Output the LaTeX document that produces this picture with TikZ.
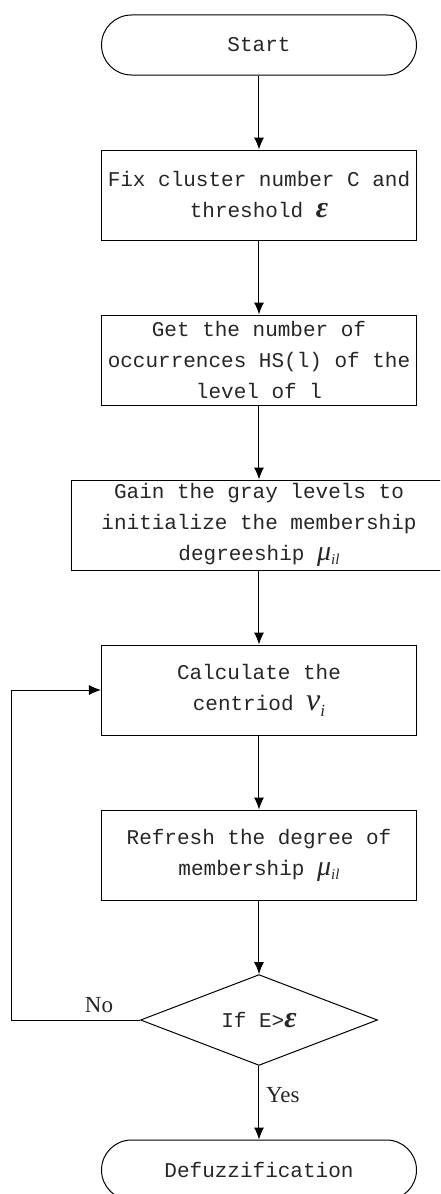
\documentclass[tikz,border=0pt]{standalone}
\usepackage{fontspec}
\setmonofont{Liberation Mono}
\newfontfamily\serfont{Liberation Serif}
\usetikzlibrary{arrows.meta,positioning,shapes}

\newcommand{\epsym}{{\serfont\bfseries\itshape\fontsize{15}{15}\selectfont ε}}
\newcommand{\muil}{{\serfont\itshape\fontsize{14}{14}\selectfont μ}{\serfont\itshape\fontsize{7.5}{8}\selectfont\raisebox{-2pt}{il}}}
\newcommand{\vsym}{{\serfont\itshape\fontsize{16}{16}\selectfont v}{\serfont\itshape\fontsize{8.5}{9}\selectfont\raisebox{-3pt}{i}}}

\begin{document}
\begin{tikzpicture}[
            flowtext/.style={font=\ttfamily\fontsize{10.5}{15.5}\selectfont,align=center,text=black!85},
            proc/.style={draw,rectangle,flowtext,inner sep=1pt,minimum width=157.5pt,minimum height=45pt,node distance=82.5pt},
            term/.style={draw,rectangle,rounded corners=15pt,flowtext,minimum width=157.5pt,minimum height=30pt,node distance=75pt},
            decide/.style={draw,diamond,flowtext,inner sep=0pt,minimum width=118.5pt,minimum height=44.5pt,node distance=82.5pt},
            lab/.style={font=\serfont\fontsize{11.5}{13}\selectfont,text=black!85},
            line width=0.5pt,
            >={Latex[length=6pt,width=5pt]}
          ]
          \path[use as bounding box,clip] (-129.5pt,22.5pt) rectangle (90.5pt,-574.5pt);

          \node[term] (start) at (0,0) {Start};
          \node[below of = start,proc,node distance=75pt] (fix) {Fix cluster number C and\\threshold \epsym};
          \node[below of = fix,proc] (get) {Get the number of\\occurrences HS(l) of the\\level of l};
          \node[below of = get,proc,minimum width=187pt] (gain) {Gain the gray levels to\\initialize the membership\\degreeship \muil};
          \node[below of = gain,proc] (calc) {Calculate the\\centriod \vsym};
          \node[below of = calc,proc] (refresh) {Refresh the degree of\\membership \muil};
          \node[below of = refresh,decide] (dec) {If E>\epsym};
          \node[below of = dec,term] (defuzz) {Defuzzification};

          %loop back
          \coordinate[left of = dec,node distance=123.5pt] (back);

          \path[->]
          (start) edge (fix)
          (fix) edge (get)
          (get) edge (gain)
          (gain) edge (calc)
          (calc) edge (refresh)
          (refresh) edge (dec)
          (dec) edge node[right,lab,pos=.4] {Yes} (defuzz)
          ;
          \draw[->] (dec.west) -- node[above,lab,pos=.32] {No} (back) |- (calc.west);

      \end{tikzpicture}
\end{document}
